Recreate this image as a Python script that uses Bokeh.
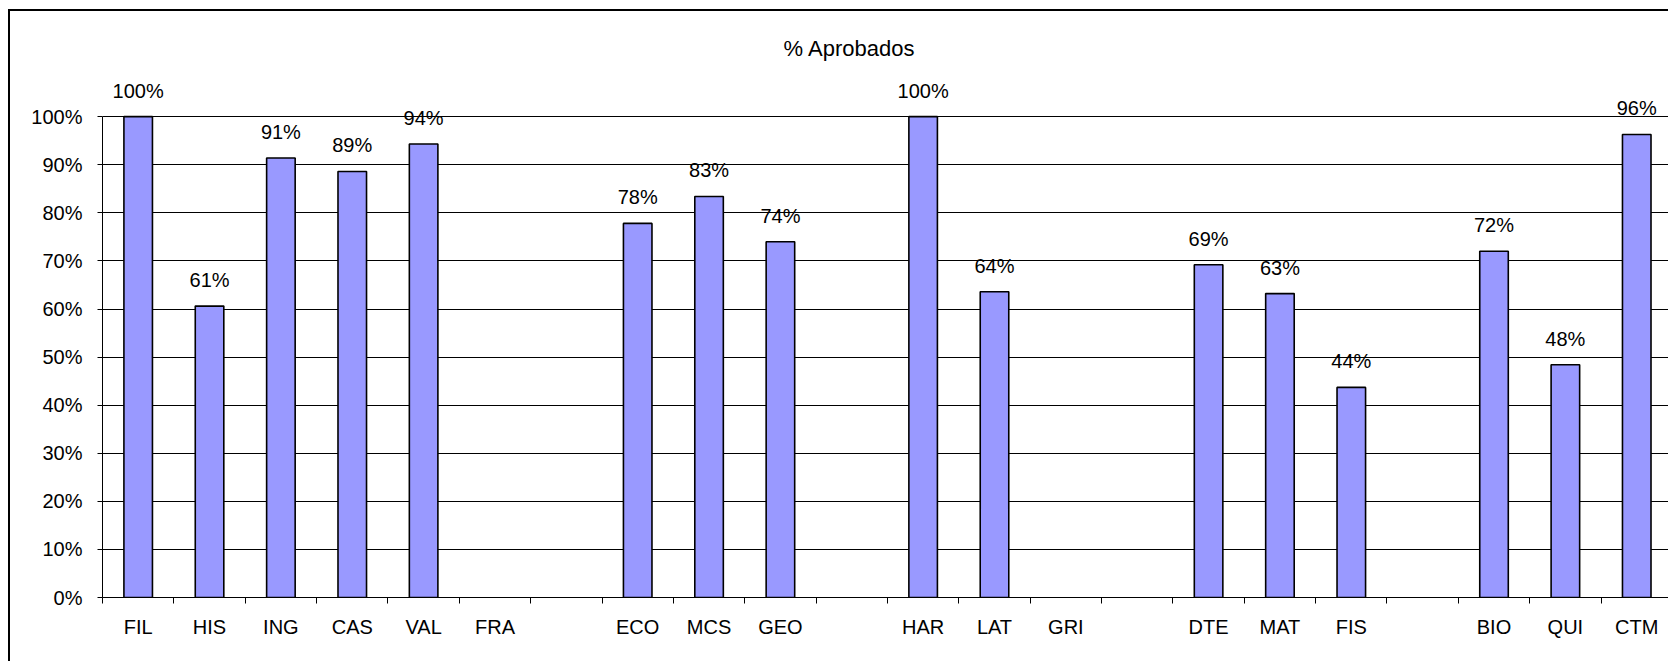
from bokeh.plotting import figure
from bokeh.models import ColumnDataSource, Range1d, FixedTicker, LabelSet, Label
from bokeh.core.properties import value
from bokeh.embed import file_html
from bokeh.resources import INLINE

# ---- data ----
categories = ["FIL", "HIS", "ING", "CAS", "VAL", "FRA", "",
              "ECO", "MCS", "GEO", "",
              "HAR", "LAT", "GRI", "",
              "DTE", "MAT", "FIS", "",
              "BIO", "QUI", "CTM"]
aprobados = [100.0, 60.6, 91.4, 88.6, 94.3, None, None,
             77.8, 83.4, 74.0, None,
             100.0, 63.6, None, None,
             69.2, 63.2, 43.7, None,
             72.0, 48.4, 96.3]
y_ticks = [0, 10, 20, 30, 40, 50, 60, 70, 80, 90, 100]
y_tick_labels = [f"{t}%" for t in y_ticks]
title_text = "% Aprobados"

FONT = "Liberation Sans"
FS = "20px"
TITLE_FS = "22px"
BAR_COLOR = "#9999FF"

xs, tops, labels = [], [], []
for i, v in enumerate(aprobados):
    if v is not None:
        xs.append(i + 0.5)
        tops.append(v)
        labels.append(f"{round(v)}%")
src = ColumnDataSource(dict(x=xs, top=tops, label=labels))

n = len(categories)
x_end = 1568 / 71.36  # visible portion of the category axis

p = figure(width=1660, height=652,
           x_range=Range1d(0, x_end), y_range=Range1d(0, 120),
           output_backend="svg", toolbar_location=None,
           min_border_left=92, min_border_right=0,
           min_border_top=9, min_border_bottom=66,
           background_fill_color="white", border_fill_color="white",
           outline_line_color=None)
p.styles = {"margin-left": "8px", "margin-top": "9px",
            "border-left": "2px solid black", "border-top": "2px solid black"}

p.vbar(x="x", top="top", bottom=0, width=0.4, source=src,
       fill_color=BAR_COLOR, line_color="black", line_width=1.6)

p.add_layout(LabelSet(x="x", y="top", text="label", source=src,
                      y_offset=19, text_align="center",
                      text_baseline="alphabetic",
                      text_font=value(FONT), text_font_size=value(FS),
                      text_color="black"))

p.add_layout(Label(x=10.47, y=114.1, text=title_text,
                   text_align="center", text_baseline="alphabetic",
                   text_font=FONT, text_font_size=TITLE_FS, text_color="black"))

# x axis: labels at category centres, tick marks at category boundaries
xa = p.xaxis[0]
xa.ticker = FixedTicker(ticks=[i + 0.5 for i in range(n)],
                        minor_ticks=list(range(n + 1)))
xa.major_label_overrides = {i + 0.5: c for i, c in enumerate(categories)}
xa.major_tick_line_color = None
xa.major_tick_out = 0
xa.major_tick_in = 0
xa.minor_tick_line_color = "black"
xa.minor_tick_out = 6
xa.minor_tick_in = 0
xa.major_label_standoff = 12
xa.axis_line_color = "black"
xa.major_label_text_font = FONT
xa.major_label_text_font_size = FS
xa.major_label_text_color = "black"

ya = p.yaxis[0]
ya.ticker = FixedTicker(ticks=y_ticks, minor_ticks=[])
ya.major_label_overrides = {t: l for t, l in zip(y_ticks, y_tick_labels)}
ya.bounds = (0, 100)
ya.major_tick_out = 5
ya.major_tick_in = 0
ya.major_tick_line_color = "black"
ya.minor_tick_line_color = None
ya.major_label_standoff = 15
ya.axis_line_color = "black"
ya.major_label_text_font = FONT
ya.major_label_text_font_size = FS
ya.major_label_text_color = "black"

p.xgrid.grid_line_color = None
p.ygrid.grid_line_color = "black"
p.ygrid.grid_line_width = 1

open("out.html", "w").write(file_html(p, INLINE))
